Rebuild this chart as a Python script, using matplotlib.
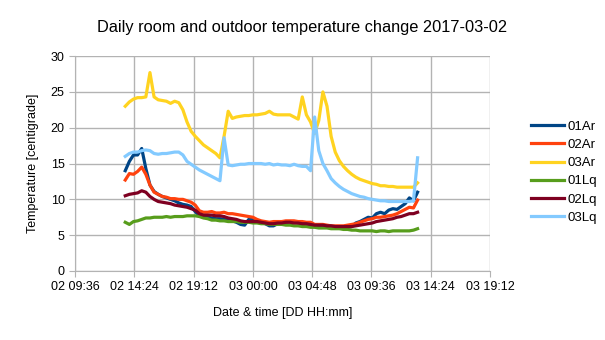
import matplotlib
matplotlib.use("Agg")
import matplotlib.pyplot as plt
import matplotlib.dates as mdates
import pandas as pd

plt.rcParams["font.family"] = ["Liberation Sans", "DejaVu Sans"]

# ── data: one reading every 20 min, 02 13:40 -> 03 13:20 ─────────────────────
times = pd.date_range("2017-03-02 13:40", periods=72, freq="20min")

t_01ar = [14.0, 15.3, 16.2, 16.2, 17.1, 14.3, 12.0, 11.1, 10.7, 10.4, 10.2, 10.0,
          9.8, 9.5, 9.3, 9.2, 9.0, 8.3, 7.7, 7.6, 7.5, 7.4, 7.3, 7.3,
          7.2, 7.1, 7.0, 6.8, 6.5, 6.4, 7.2, 7.2, 7.0, 6.9, 6.6, 6.3,
          6.3, 6.6, 6.7, 6.8, 6.9, 6.9, 6.7, 6.6, 6.6, 6.4, 6.2, 6.2,
          6.3, 6.2, 6.2, 6.1, 6.0, 6.1, 6.1, 6.2, 6.7, 6.9, 7.2, 7.5,
          7.4, 8.0, 8.2, 8.0, 8.5, 8.7, 8.6, 9.0, 9.4, 10.2, 9.8, 11.0]
t_02ar = [12.7, 13.6, 13.5, 13.9, 14.5, 13.5, 12.0, 11.0, 10.7, 10.4, 10.3, 10.1,
          10.1, 10.0, 10.0, 9.8, 9.6, 9.2, 8.4, 8.2, 8.2, 8.3, 8.1, 8.1,
          8.2, 8.0, 8.0, 7.9, 7.8, 7.7, 7.6, 7.5, 7.2, 7.0, 6.9, 6.8,
          6.9, 6.9, 6.9, 7.0, 7.0, 7.0, 6.9, 6.9, 6.8, 6.8, 6.5, 6.5,
          6.5, 6.4, 6.3, 6.3, 6.3, 6.3, 6.4, 6.5, 6.6, 6.8, 7.0, 7.2,
          7.3, 7.5, 7.5, 7.6, 7.7, 7.8, 8.0, 8.3, 8.6, 8.9, 8.8, 9.9]
t_03ar = [23.0, 23.6, 24.0, 24.2, 24.2, 24.3, 27.7, 24.3, 23.9, 23.8, 23.7, 23.4,
          23.7, 23.5, 22.5, 20.8, 19.5, 18.8, 18.2, 17.6, 17.2, 16.8, 16.4, 15.8,
          18.8, 22.3, 21.3, 21.5, 21.6, 21.7, 21.7, 21.8, 21.8, 21.9, 22.0, 22.3,
          21.9, 21.8, 21.8, 21.8, 21.8, 21.5, 21.2, 24.3, 21.8, 20.8, 19.2, 21.0,
          25.0, 23.0, 18.8, 16.6, 15.4, 14.6, 14.0, 13.5, 13.1, 12.8, 12.6, 12.4,
          12.2, 12.1, 11.9, 11.9, 11.8, 11.8, 11.7, 11.7, 11.7, 11.7, 11.7, 12.3]
t_01lq = [6.8, 6.5, 6.9, 7.0, 7.2, 7.4, 7.4, 7.5, 7.5, 7.5, 7.6, 7.5,
          7.6, 7.6, 7.6, 7.7, 7.7, 7.7, 7.6, 7.4, 7.3, 7.1, 7.1, 7.0,
          7.0, 6.9, 6.9, 6.9, 6.8, 6.8, 6.8, 6.7, 6.7, 6.6, 6.6, 6.5,
          6.5, 6.5, 6.5, 6.4, 6.4, 6.3, 6.3, 6.2, 6.2, 6.1, 6.1, 6.0,
          6.0, 6.0, 5.9, 5.9, 5.9, 5.8, 5.8, 5.7, 5.7, 5.6, 5.6, 5.6,
          5.6, 5.5, 5.6, 5.6, 5.5, 5.6, 5.6, 5.6, 5.6, 5.6, 5.7, 5.9]
t_02lq = [10.5, 10.7, 10.8, 10.9, 11.2, 11.0, 10.4, 10.0, 9.7, 9.6, 9.5, 9.4,
          9.2, 9.1, 9.0, 8.9, 8.7, 8.5, 8.0, 7.8, 7.8, 7.8, 7.7, 7.7,
          7.6, 7.4, 7.3, 7.2, 7.0, 6.9, 6.9, 6.9, 6.9, 6.8, 6.7, 6.6,
          6.6, 6.7, 6.7, 6.8, 6.8, 6.7, 6.7, 6.6, 6.6, 6.5, 6.4, 6.4,
          6.4, 6.3, 6.3, 6.2, 6.2, 6.2, 6.2, 6.2, 6.3, 6.4, 6.5, 6.6,
          6.7, 6.9, 7.0, 7.1, 7.2, 7.3, 7.5, 7.6, 7.8, 8.0, 8.0, 8.2]
t_03lq = [16.0, 16.4, 16.6, 16.6, 16.8, 16.9, 16.8, 16.4, 16.3, 16.4, 16.4, 16.5,
          16.6, 16.6, 16.2, 15.3, 14.9, 14.5, 14.1, 13.8, 13.5, 13.2, 12.9, 12.6,
          18.6, 14.8, 14.7, 14.8, 14.9, 14.9, 15.0, 15.0, 15.0, 15.0, 14.9, 15.0,
          14.8, 14.9, 14.8, 14.8, 14.7, 14.9, 14.7, 14.6, 14.6, 14.0, 21.5, 16.8,
          15.0, 14.0, 12.9, 12.3, 11.8, 11.4, 11.1, 10.8, 10.6, 10.4, 10.3, 10.1,
          10.0, 9.9, 9.8, 9.8, 9.7, 9.7, 9.7, 9.7, 9.7, 9.7, 9.8, 15.8]

labels = ["01Ar", "02Ar", "03Ar", "01Lq", "02Lq", "03Lq"]
colors = ["#004586", "#ff420e", "#ffd320", "#579d1c", "#7e0021", "#83caff"]
series = [t_01ar, t_02ar, t_03ar, t_01lq, t_02lq, t_03lq]

x_ticks = pd.date_range("2017-03-02 09:36", periods=8, freq="288min")

# ── plot ─────────────────────────────────────────────────────────────────────
fig = plt.figure(figsize=(6.05, 3.4), dpi=100)
ax = fig.add_axes([0.124, 0.203, 0.686, 0.632])

for vals, lab, col in zip(series, labels, colors):
    ax.plot(times, vals, color=col, lw=2.3, label=lab, solid_joinstyle="round")

ax.set_xlim(x_ticks[0], x_ticks[-1])
ax.set_ylim(0, 30)
ax.set_yticks(range(0, 31, 5))
ax.set_xticks(x_ticks)
ax.xaxis.set_major_formatter(mdates.DateFormatter("%d %H:%M"))

ax.grid(True, color="#b3b3b3", lw=1)
ax.set_axisbelow(True)
for side in ["top", "right"]:
    ax.spines[side].set_visible(False)
for side in ["left", "bottom"]:
    ax.spines[side].set_color("#b3b3b3")
ax.tick_params(colors="#b3b3b3", labelcolor="black", labelsize=9, length=4)

ax.set_xlabel("Date & time [DD HH:mm]", fontsize=9, labelpad=10)
ax.set_ylabel("Temperature [centigrade]", fontsize=9, labelpad=8)
fig.suptitle("Daily room and outdoor temperature change 2017-03-02",
             fontsize=11.8, y=0.94)

# legend sits to the right of the plot, lines start around x=530 px
ax.legend(loc="center left", bbox_to_anchor=(1.07, 0.46), frameon=False,
          fontsize=9.5, handlelength=2.5, handletextpad=0.3, labelspacing=0.45)

fig.savefig("out.png", dpi=100)
